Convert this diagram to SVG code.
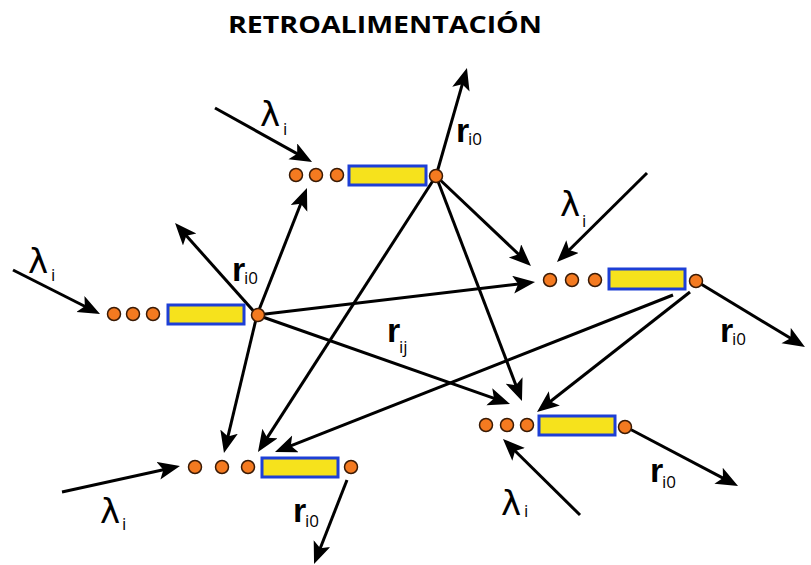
<svg xmlns="http://www.w3.org/2000/svg" width="811" height="565" viewBox="0 0 811 565">
<style>
.dot{fill:#f47a20;stroke:#3a1a05;stroke-width:1.5}
.bar{fill:#f6e21c;stroke:#1d3fd6;stroke-width:3}
.ln{stroke:#000;stroke-width:3;fill:none;marker-end:url(#ah)}
.r{font-family:"Liberation Sans",Arial,sans-serif;font-weight:bold;font-size:34px;fill:#000}
.sub{font-family:"Open Sans","Liberation Sans",sans-serif;font-size:17px;fill:#000}
.lam{font-family:"DejaVu Sans",sans-serif;font-size:34px;fill:#000}
.title{font-family:"Open Sans","Liberation Sans",sans-serif;font-weight:bold;font-size:23px;fill:#000}
</style>
<defs>
<marker id="ah" markerUnits="userSpaceOnUse" markerWidth="24" markerHeight="20" refX="12" refY="9" orient="auto">
<path d="M0,0 L22,9 L0,18 L5,9 z" fill="#000"/>
</marker>
</defs>
<rect width="811" height="565" fill="#fff"/>
<text class="title" x="228" y="33" textLength="314" lengthAdjust="spacingAndGlyphs">RETROALIMENTACIÓN</text>

<g id="connectors">
<line class="ln" x1="215" y1="108" x2="303.3" y2="157.1"/>
<line class="ln" x1="436" y1="176" x2="464.2" y2="77.6"/>
<line class="ln" x1="436" y1="176" x2="523.7" y2="259.1"/>
<line class="ln" x1="436" y1="176" x2="518.4" y2="391.7"/>
<line class="ln" x1="436" y1="176" x2="263.4" y2="443.6"/>
<line class="ln" x1="13" y1="270" x2="91.1" y2="309.5"/>
<line class="ln" x1="257" y1="315" x2="181.7" y2="230.5"/>
<line class="ln" x1="257" y1="315" x2="303.3" y2="197.3"/>
<line class="ln" x1="257" y1="315" x2="525.1" y2="283.2"/>
<line class="ln" x1="257" y1="315" x2="500.6" y2="400.7"/>
<line class="ln" x1="257" y1="315" x2="226.3" y2="443.3"/>
<line class="ln" x1="647" y1="173" x2="564.1" y2="255"/>
<line class="ln" x1="696" y1="281" x2="796.4" y2="341.8"/>
<line class="ln" x1="673" y1="295" x2="284.3" y2="448.3"/>
<line class="ln" x1="690" y1="292" x2="544.9" y2="405.8"/>
<line class="ln" x1="626" y1="427" x2="729.2" y2="481.3"/>
<line class="ln" x1="580" y1="515" x2="510.1" y2="446"/>
<line class="ln" x1="62" y1="492" x2="170.2" y2="468.2"/>
<line class="ln" x1="347" y1="480" x2="317.7" y2="554.7"/>
</g>

<g id="nodeA">
<circle class="dot" cx="296" cy="175" r="6.5"/>
<circle class="dot" cx="316" cy="175" r="6.5"/>
<circle class="dot" cx="337" cy="175" r="6.5"/>
<rect class="bar" x="349" y="166" width="77" height="19"/>
<circle class="dot" cx="436" cy="176" r="6.5"/>
</g>
<g id="nodeB">
<circle class="dot" cx="114" cy="314" r="6.5"/>
<circle class="dot" cx="133" cy="314" r="6.5"/>
<circle class="dot" cx="153" cy="314" r="6.5"/>
<rect class="bar" x="168" y="305" width="76" height="19"/>
<circle class="dot" cx="258" cy="315" r="6.5"/>
</g>
<g id="nodeC">
<circle class="dot" cx="550" cy="280" r="6.5"/>
<circle class="dot" cx="572" cy="280" r="6.5"/>
<circle class="dot" cx="595" cy="280" r="6.5"/>
<rect class="bar" x="609" y="269" width="76" height="20"/>
<circle class="dot" cx="696" cy="281" r="6.5"/>
</g>
<g id="nodeD">
<circle class="dot" cx="486" cy="425" r="6.5"/>
<circle class="dot" cx="507" cy="425" r="6.5"/>
<circle class="dot" cx="527" cy="425" r="6.5"/>
<rect class="bar" x="539" y="416" width="76" height="19"/>
<circle class="dot" cx="625" cy="427" r="6.5"/>
</g>
<g id="nodeE">
<circle class="dot" cx="195" cy="467" r="6.5"/>
<circle class="dot" cx="222" cy="467" r="6.5"/>
<circle class="dot" cx="248" cy="467" r="6.5"/>
<rect class="bar" x="262" y="458" width="76" height="19"/>
<circle class="dot" cx="351" cy="467" r="6.5"/>
</g>

<g id="labels">
<text class="lam" x="260" y="126">λ</text><text class="sub" x="283" y="135">i</text>
<text class="r" x="456" y="142">r</text><text class="sub" x="468" y="145">i0</text>
<text class="lam" x="28" y="273">λ</text><text class="sub" x="51" y="281">i</text>
<text class="r" x="232" y="281">r</text><text class="sub" x="244" y="284">i0</text>
<text class="r" x="387" y="342">r</text><text class="sub" x="399" y="353">ij</text>
<text class="lam" x="560" y="216">λ</text><text class="sub" x="582" y="227">i</text>
<text class="r" x="720" y="342">r</text><text class="sub" x="732" y="345">i0</text>
<text class="r" x="650" y="482">r</text><text class="sub" x="662" y="488">i0</text>
<text class="lam" x="501" y="515">λ</text><text class="sub" x="524" y="517">i</text>
<text class="lam" x="100" y="523">λ</text><text class="sub" x="122" y="530">i</text>
<text class="r" x="293" y="522">r</text><text class="sub" x="305" y="527">i0</text>
</g>
</svg>
